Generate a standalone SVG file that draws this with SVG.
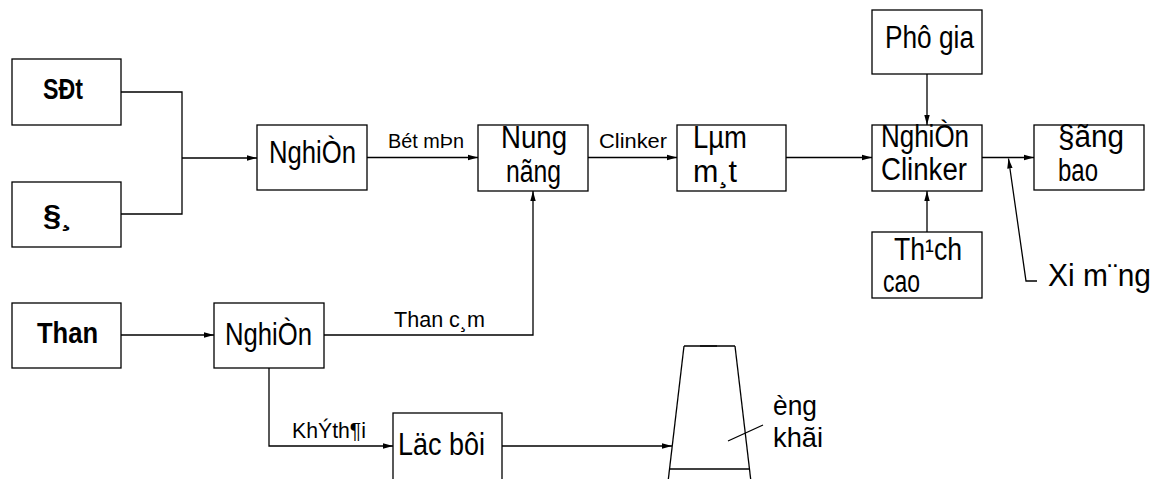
<svg xmlns="http://www.w3.org/2000/svg" width="1168" height="479" viewBox="0 0 1168 479">
  <style>
    .box { fill: #fff; stroke: #000; stroke-width: 1.3; }
    .ln { fill: none; stroke: #000; stroke-width: 1.3; }
    .t { font-family: "Liberation Sans", Arial, sans-serif; font-size: 31px; fill: #000; }
    .b { font-weight: bold; font-size: 29px; }
    .s { font-size: 20px; }
    .m { font-size: 22.5px; }
    .k { font-size: 28px; }
  </style>
  <defs>
    <marker id="arr" markerUnits="userSpaceOnUse" markerWidth="11" markerHeight="7" refX="10" refY="3.5" orient="auto">
      <path d="M0,0.8 L10,3.5 L0,6.2 z" fill="#000"/>
    </marker>
  </defs>
  <rect width="1168" height="479" fill="#fff"/>

  <!-- flow connectors -->
  <g id="connectors">
    <polyline class="ln" points="121,92 182,92 182,214 121,214"/>
    <line class="ln" x1="182" y1="158" x2="257" y2="158" marker-end="url(#arr)"/>
    <line class="ln" x1="367" y1="157.5" x2="478" y2="157.5" marker-end="url(#arr)"/>
    <line class="ln" x1="588" y1="157.5" x2="677" y2="157.5" marker-end="url(#arr)"/>
    <line class="ln" x1="786" y1="157.5" x2="872" y2="157.5" marker-end="url(#arr)"/>
    <line class="ln" x1="927" y1="74" x2="927" y2="125" marker-end="url(#arr)"/>
    <line class="ln" x1="927" y1="232" x2="927" y2="191" marker-end="url(#arr)"/>
    <line class="ln" x1="982" y1="157.5" x2="1034" y2="157.5" marker-end="url(#arr)"/>
    <polyline class="ln" points="1037,281 1026,281 1008.5,158.5" marker-end="url(#arr)"/>
    <line class="ln" x1="121" y1="335" x2="214" y2="335" marker-end="url(#arr)"/>
    <polyline class="ln" points="324,335 533,335 533,191" marker-end="url(#arr)"/>
    <polyline class="ln" points="269,368 269,446 393,446" marker-end="url(#arr)"/>
    <line class="ln" x1="502" y1="446" x2="672" y2="446" marker-end="url(#arr)"/>
    <line class="ln" x1="728" y1="441" x2="763" y2="425"/>
    <text class="t s" x="388" y="148" textLength="76" lengthAdjust="spacingAndGlyphs">Bét mÞn</text>
    <text class="t s" x="599" y="148" textLength="68" lengthAdjust="spacingAndGlyphs">Clinker</text>
    <text class="t m" x="394" y="327" textLength="91" lengthAdjust="spacingAndGlyphs">Than c¸m</text>
    <text class="t m" x="292" y="438" textLength="74" lengthAdjust="spacingAndGlyphs">KhÝth¶i</text>
    <text class="t" x="1048" y="286" textLength="103" lengthAdjust="spacingAndGlyphs">Xi m¨ng</text>
  </g>

  <g id="set">
    <rect class="box" x="12" y="59" width="109" height="66"/>
    <text class="t b" x="43" y="99" textLength="40" lengthAdjust="spacingAndGlyphs">SÐt</text>
  </g>
  <g id="da">
    <rect class="box" x="12" y="182" width="109" height="65"/>
    <text class="t b" x="43" y="225" textLength="29" lengthAdjust="spacingAndGlyphs">§¸</text>
  </g>
  <g id="nghien-1">
    <rect class="box" x="257" y="125" width="110" height="65"/>
    <text class="t" x="269" y="163" textLength="87" lengthAdjust="spacingAndGlyphs">NghiÒn</text>
  </g>
  <g id="nung-nong">
    <rect class="box" x="478" y="125" width="110" height="66"/>
    <text class="t" x="501" y="147.5" textLength="66" lengthAdjust="spacingAndGlyphs">Nung</text>
    <text class="t" x="506" y="181.5" textLength="55" lengthAdjust="spacingAndGlyphs">nãng</text>
  </g>
  <g id="lam-mat">
    <rect class="box" x="677" y="125" width="109" height="66"/>
    <text class="t" x="693" y="147.5" textLength="54" lengthAdjust="spacingAndGlyphs">Lµm</text>
    <text class="t" x="693" y="181.5" textLength="44" lengthAdjust="spacingAndGlyphs">m¸t</text>
  </g>
  <g id="phu-gia">
    <rect class="box" x="872" y="10" width="110" height="64"/>
    <text class="t" x="885" y="48" textLength="89" lengthAdjust="spacingAndGlyphs">Phô gia</text>
  </g>
  <g id="nghien-clinker">
    <rect class="box" x="872" y="125" width="110" height="66"/>
    <text class="t" x="881" y="147" textLength="88" lengthAdjust="spacingAndGlyphs">NghiÒn</text>
    <text class="t" x="881" y="180" textLength="86" lengthAdjust="spacingAndGlyphs">Clinker</text>
  </g>
  <g id="dong-bao">
    <rect class="box" x="1034" y="125" width="110" height="65"/>
    <text class="t" x="1058" y="147" textLength="66" lengthAdjust="spacingAndGlyphs">§ãng</text>
    <text class="t" x="1058" y="181" textLength="40" lengthAdjust="spacingAndGlyphs">bao</text>
  </g>
  <g id="thach-cao">
    <rect class="box" x="872" y="232" width="110" height="66"/>
    <text class="t" x="894" y="260" textLength="68" lengthAdjust="spacingAndGlyphs">Th¹ch</text>
    <text class="t" x="883" y="292" textLength="37" lengthAdjust="spacingAndGlyphs">cao</text>
  </g>
  <g id="than">
    <rect class="box" x="12" y="303" width="109" height="65"/>
    <text class="t b" x="37" y="343" textLength="61" lengthAdjust="spacingAndGlyphs">Than</text>
  </g>
  <g id="nghien-2">
    <rect class="box" x="214" y="303" width="110" height="65"/>
    <text class="t" x="225" y="345" textLength="87" lengthAdjust="spacingAndGlyphs">NghiÒn</text>
  </g>
  <g id="loc-bui">
    <rect class="box" x="393" y="413" width="109" height="72"/>
    <text class="t" x="398" y="455" textLength="87" lengthAdjust="spacingAndGlyphs">Läc bôi</text>
  </g>
  <g id="ong-khoi">
    <line class="ln" x1="684" y1="346" x2="735" y2="346"/>
    <line class="ln" x1="700" y1="346" x2="717" y2="346" stroke-width="2.4"/>
    <line class="ln" x1="684" y1="346" x2="668" y2="482"/>
    <line class="ln" x1="735" y1="346" x2="751" y2="482"/>
    <line class="ln" x1="670" y1="469" x2="750" y2="469"/>
    <text class="t k" x="773" y="415" textLength="44" lengthAdjust="spacingAndGlyphs">èng</text>
    <text class="t k" x="773" y="447" textLength="50" lengthAdjust="spacingAndGlyphs">khãi</text>
  </g>
</svg>
